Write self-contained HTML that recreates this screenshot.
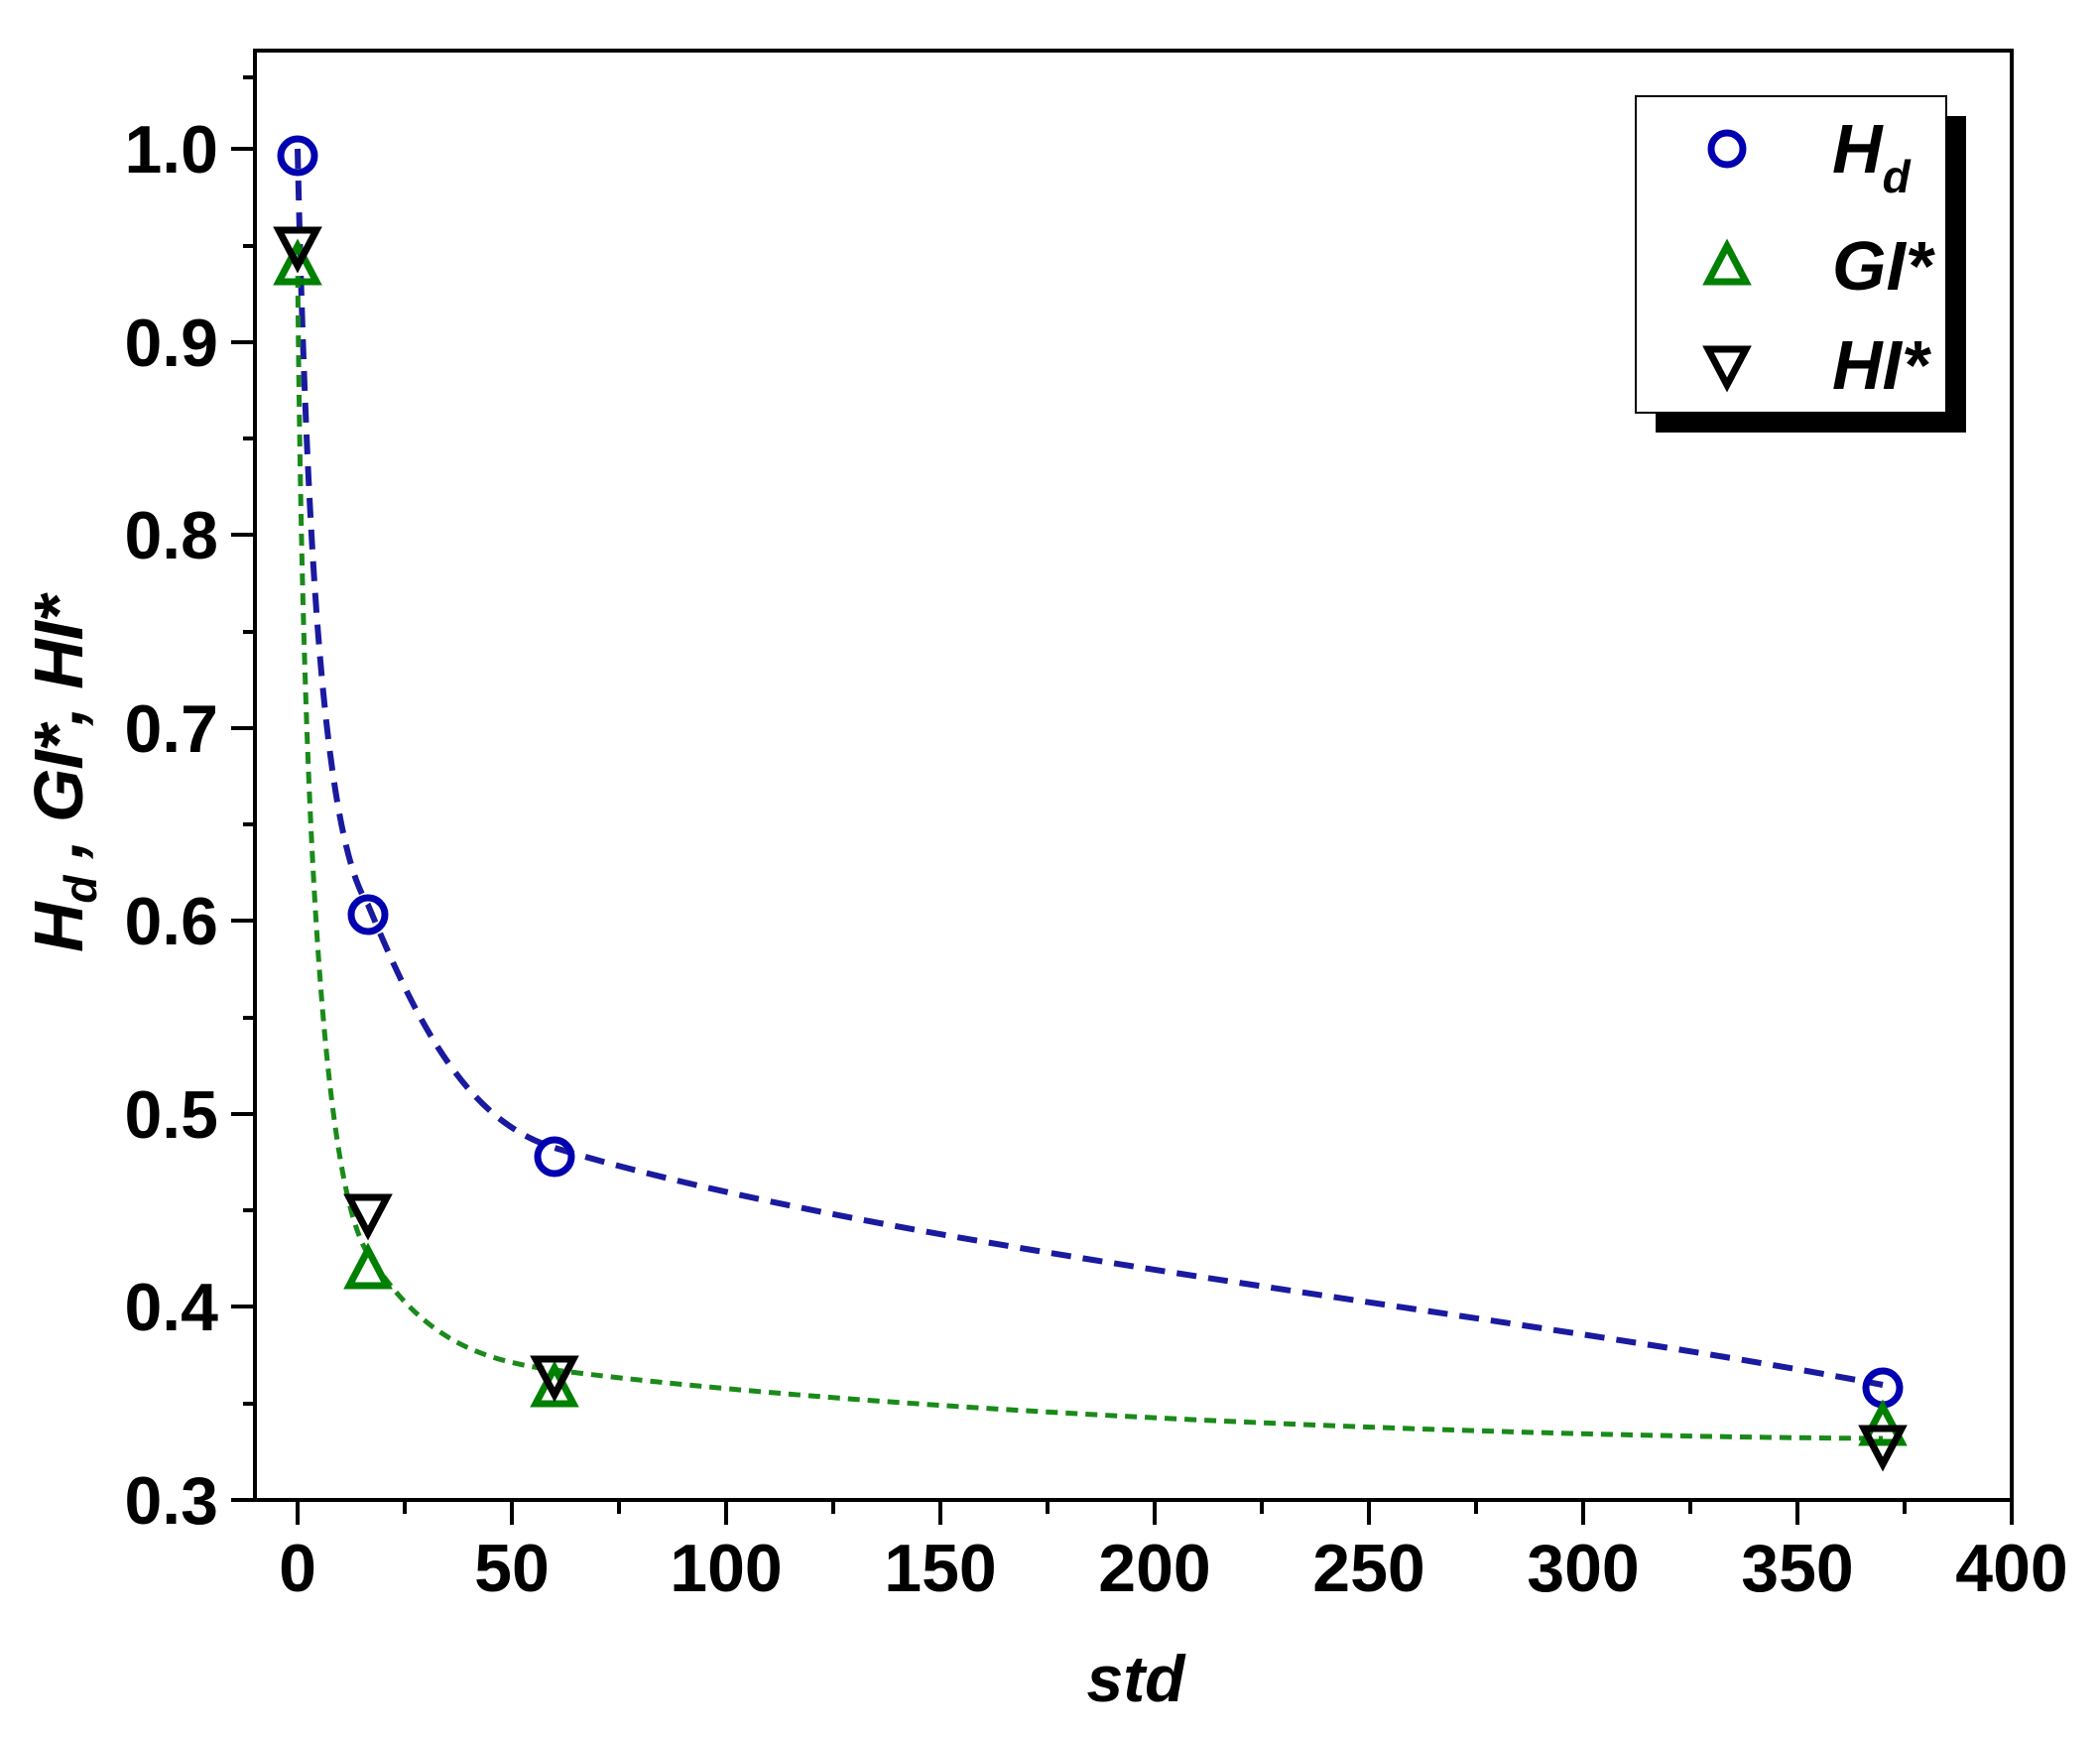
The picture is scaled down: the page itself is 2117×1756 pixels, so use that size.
<!DOCTYPE html>
<html><head><meta charset="utf-8"><style>
html,body{margin:0;padding:0;background:#fff}
text{font-family:"Liberation Sans",sans-serif;font-weight:bold}
</style></head><body>
<svg width="2117" height="1751" viewBox="0 0 2117 1751" xmlns="http://www.w3.org/2000/svg">
<rect width="2117" height="1751" fill="#fff"/>
<rect x="257" y="51" width="1771" height="1461" fill="none" stroke="#000" stroke-width="4"/>
<line x1="233" y1="1512" x2="257" y2="1512" stroke="#000" stroke-width="4"/>
<g stroke="#000" stroke-width="4">
<line x1="300" y1="1514" x2="300" y2="1537"/><line x1="516" y1="1514" x2="516" y2="1537"/>
<line x1="732" y1="1514" x2="732" y2="1537"/><line x1="948" y1="1514" x2="948" y2="1537"/>
<line x1="1164" y1="1514" x2="1164" y2="1537"/><line x1="1380" y1="1514" x2="1380" y2="1537"/>
<line x1="1596" y1="1514" x2="1596" y2="1537"/><line x1="1812" y1="1514" x2="1812" y2="1537"/>
<line x1="2028" y1="1514" x2="2028" y2="1537"/>
<line x1="408" y1="1514" x2="408" y2="1526"/><line x1="624" y1="1514" x2="624" y2="1526"/>
<line x1="840" y1="1514" x2="840" y2="1526"/><line x1="1056" y1="1514" x2="1056" y2="1526"/>
<line x1="1272" y1="1514" x2="1272" y2="1526"/><line x1="1488" y1="1514" x2="1488" y2="1526"/>
<line x1="1704" y1="1514" x2="1704" y2="1526"/><line x1="1920" y1="1514" x2="1920" y2="1526"/>
<line x1="233" y1="1317" x2="257" y2="1317"/><line x1="233" y1="1123" x2="257" y2="1123"/>
<line x1="233" y1="928" x2="257" y2="928"/><line x1="233" y1="734" x2="257" y2="734"/>
<line x1="233" y1="539" x2="257" y2="539"/><line x1="233" y1="345" x2="257" y2="345"/>
<line x1="233" y1="150" x2="257" y2="150"/>
<line x1="245" y1="1415" x2="257" y2="1415"/><line x1="245" y1="1220" x2="257" y2="1220"/>
<line x1="245" y1="1026" x2="257" y2="1026"/><line x1="245" y1="831" x2="257" y2="831"/>
<line x1="245" y1="637" x2="257" y2="637"/><line x1="245" y1="442" x2="257" y2="442"/>
<line x1="245" y1="248" x2="257" y2="248"/><line x1="245" y1="78" x2="257" y2="78"/>
</g>
<g font-size="68" text-anchor="end">
<text x="220" y="1536">0.3</text><text x="220" y="1341">0.4</text>
<text x="220" y="1147">0.5</text><text x="220" y="952">0.6</text>
<text x="220" y="758">0.7</text><text x="220" y="563">0.8</text>
<text x="220" y="369">0.9</text><text x="220" y="174">1.0</text>
</g>
<g font-size="68" text-anchor="middle">
<text x="300" y="1604">0</text><text x="516" y="1604">50</text><text x="732" y="1604">100</text>
<text x="948" y="1604">150</text><text x="1164" y="1604">200</text><text x="1380" y="1604">250</text>
<text x="1596" y="1604">300</text><text x="1812" y="1604">350</text><text x="2028" y="1604">400</text>
</g>
<text x="1145" y="1715" font-size="66" font-style="italic" text-anchor="middle">std</text>
<text transform="translate(83,960) rotate(-90)" font-size="70" font-style="italic" textLength="360" lengthAdjust="spacing">H<tspan font-size="46" dy="14">d</tspan><tspan dy="-14"> , GI*, HI*</tspan></text>
<path d="M300,150 C310,600 330,850 371,912 C420,1030 470,1130 559,1157 C900,1260 1500,1320 1898,1396" fill="none" stroke="#1a1aa0" stroke-width="6" stroke-dasharray="20,12"/>
<path d="M300,258 C305,900 330,1200 371,1264 C420,1340 470,1370 559,1381 C900,1425 1500,1448 1898,1450" fill="none" stroke="#1a8a1a" stroke-width="5" stroke-dasharray="12,8"/>
<g fill="none" stroke="#0000b0" stroke-width="7">
<circle cx="300" cy="157" r="17"/><circle cx="371" cy="922" r="17"/>
<circle cx="559" cy="1166" r="17"/><circle cx="1898" cy="1399" r="17"/>
</g>
<g fill="none" stroke="#008000" stroke-width="7">
<polygon points="300,248 281,284 319,284"/><polygon points="371,1260 352,1296 390,1296"/>
<polygon points="559,1379 540,1415 578,1415"/><polygon points="1898,1418 1879,1454 1917,1454"/>
</g>
<g fill="none" stroke="#000" stroke-width="7">
<polygon points="281,232 319,232 300,268"/><polygon points="352,1207 390,1207 371,1243"/>
<polygon points="540,1370 578,1370 559,1406"/><polygon points="1879,1440 1917,1440 1898,1476"/>
</g>
<rect x="1669" y="117" width="313" height="319" fill="#000"/>
<rect x="1649" y="97" width="313" height="319" fill="#fff" stroke="#000" stroke-width="2"/>
<circle cx="1741" cy="150" r="16" fill="none" stroke="#0000b0" stroke-width="7"/>
<polygon points="1741,248 1722,284 1760,284" fill="none" stroke="#008000" stroke-width="7"/>
<polygon points="1722,352 1760,352 1741,388" fill="none" stroke="#000" stroke-width="7"/>
<g font-size="70" font-style="italic">
<text x="1847" y="174">H<tspan font-size="46" dy="20">d</tspan></text>
<text x="1847" y="292">GI*</text>
<text x="1847" y="392">HI*</text>
</g>
</svg>
</body></html>
